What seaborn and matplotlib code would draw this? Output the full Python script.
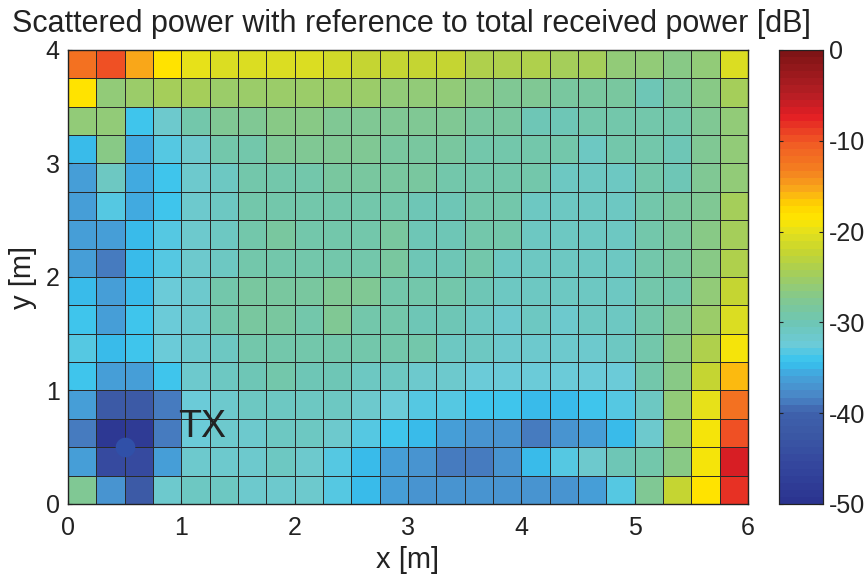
import numpy as np
import pandas as pd
import matplotlib
matplotlib.use("Agg")
import matplotlib.pyplot as plt
import seaborn as sns
from matplotlib.colors import LinearSegmentedColormap

# ---- data: scattered power [dB], rows from top (y = 3.75..4) to bottom (y = 0..0.25)
r00 = [-12, -10, -15, -18, -20, -21, -21, -21, -21, -21.5, -22, -22, -22.5, -22.5, -23.5, -24, -24, -25, -25, -26, -26.5, -27, -26, -20.5]
r01 = [-18, -26, -25.5, -25, -25, -25.5, -25.5, -25.5, -25.5, -25.5, -25.5, -26, -26, -26.5, -27, -27.5, -28, -28.5, -28.5, -28.5, -30, -28.5, -27, -25]
r02 = [-26, -26.5, -34, -31.5, -29.5, -28, -27.5, -27, -27, -27.5, -27.5, -28, -28, -28, -28.5, -28.5, -30, -30, -29.5, -29.5, -29.5, -29, -27.5, -26]
r03 = [-35, -27, -35.5, -33, -31.5, -29.5, -29, -28, -28, -28, -28, -28.5, -28.5, -28.5, -29.5, -29.5, -29.5, -29.5, -30.5, -29.5, -29.5, -30, -27.5, -26.5]
r04 = [-36.5, -30.5, -35.5, -34, -32, -30.5, -29.5, -29, -29, -28.5, -28.5, -28.5, -28.5, -29.5, -29.5, -29.5, -29.5, -30.5, -30.5, -30.5, -29.5, -30, -27.5, -26.5]
r05 = [-36.5, -33, -35.5, -34, -32, -30.5, -29.5, -29, -29, -29, -29, -29, -30, -30, -29.5, -29.5, -30.5, -30.5, -30.5, -30.5, -29.5, -28.5, -27.5, -25]
r06 = [-36.5, -36.5, -35, -33, -32, -30.5, -29.5, -28.5, -29, -29, -29, -28.5, -30, -30, -29.5, -29.5, -30.5, -30.5, -30.5, -30.5, -29.5, -28.5, -27, -25]
r07 = [-36.5, -38.5, -35, -33, -32, -30.5, -29.5, -29, -29, -29, -29, -28.5, -30, -30, -29.5, -30.5, -30.5, -30.5, -30.5, -30.5, -29.5, -28.5, -27, -24]
r08 = [-35, -36.5, -35, -32.5, -31.5, -29.5, -28.5, -28.5, -28.5, -28, -28, -29.5, -29.5, -29.5, -30, -30.5, -30.5, -30.5, -30.5, -30.5, -29.5, -29, -26.5, -22.5]
r09 = [-34, -36.5, -34, -32.5, -31.5, -29.5, -28.5, -28.5, -29, -28, -29.5, -29.5, -30, -30, -30.5, -31.5, -31, -31.5, -31, -30.5, -29.5, -27.5, -25.5, -20.5]
r10 = [-33, -35, -34, -32.5, -31.5, -30.5, -29.5, -29.5, -29.5, -29.5, -29, -29.5, -29.5, -31, -31, -32, -32, -32, -31.5, -31, -29.5, -27, -24, -19]
r11 = [-34, -36, -36.5, -34, -32, -30.5, -30, -29.5, -30, -30, -31, -31, -32, -32, -32.5, -32.5, -32.5, -32.5, -32.5, -32.5, -29.5, -27, -22, -16]
r12 = [-36.5, -42, -42, -38.5, -32.5, -32, -31, -30.5, -31, -31, -32, -32.5, -33, -33, -34, -34, -35, -35, -34, -33, -30.5, -26, -20, -12]
r13 = [-38.5, -49, -48, -39, -32.5, -32, -32, -31, -31, -32, -33, -34, -35, -36.5, -37.5, -37.5, -38.5, -37.5, -36.5, -35, -32, -26, -19.5, -10]
r14 = [-36.5, -45, -45, -36.5, -32, -32, -32, -31, -32, -33, -35, -36.5, -37.5, -39, -39, -37.5, -35, -33, -32, -30, -29.5, -27, -19, -7]
r15 = [-27.5, -37, -41.5, -32, -30.5, -30.5, -31.5, -32, -32, -33, -35, -36.5, -37.5, -37.5, -37.5, -37.5, -37.5, -37.5, -36.5, -33, -28, -22.5, -18, -8.5]

x_tick_labels = ["0", "1", "2", "3", "4", "5", "6"]
y_tick_labels = ["4", "3", "2", "1", "0"]
cbar_ticks = [0, -10, -20, -30, -40, -50]
tx_pos = (0.5, 0.5)   # metres
cell = 0.25           # metres

rows = [r00, r01, r02, r03, r04, r05, r06, r07, r08, r09, r10, r11, r12, r13, r14, r15]
df = pd.DataFrame(rows)

# ---- colormap (muted jet-like, as in the reference colourbar)
anchors = [
    (-50.0, "#2b3490"), (-46.5, "#33449c"), (-43.0, "#3a56a4"), (-40.0, "#3f62ac"),
    (-39.3, "#4574ba"), (-37.8, "#4a8ecc"), (-36.0, "#44a4dc"), (-34.5, "#35c4f0"),
    (-32.5, "#6ccbd8"), (-30.0, "#6ec6b4"), (-27.5, "#82c890"), (-24.5, "#a6ce58"),
    (-22.0, "#c8d62e"), (-20.0, "#e4e01c"), (-18.5, "#ffe600"), (-17.0, "#ffd400"),
    (-15.0, "#f9a51a"), (-13.0, "#f47f20"), (-10.0, "#f15a24"), (-7.0, "#e31e24"),
    (-4.5, "#b51e24"), (0.0, "#7f1416"),
]
cmap = LinearSegmentedColormap.from_list(
    "scat", [((v + 50) / 50, c) for v, c in anchors], N=64)

plt.rcParams["font.family"] = ["Liberation Sans", "DejaVu Sans"]
plt.rcParams["axes.unicode_minus"] = False
txt = "#222222"

fig = plt.figure(figsize=(8.65, 5.74), dpi=100)
ax = fig.add_axes([0.0786, 0.122, 0.7862, 0.791])
cax = fig.add_axes([0.9006, 0.122, 0.0509, 0.791])

sns.heatmap(df, ax=ax, cbar_ax=cax, cmap=cmap, vmin=-50, vmax=0,
            linewidths=0.65, linecolor="#2a2a2a", square=False,
            xticklabels=False, yticklabels=False,
            cbar_kws={"ticks": cbar_ticks})

nx, ny = df.shape[1], df.shape[0]
ax.set_xticks(np.arange(0, nx + 1, 4))
ax.set_xticklabels(x_tick_labels, fontsize=18, color=txt)
ax.set_yticks(np.arange(0, ny + 1, 4))
ax.set_yticklabels(y_tick_labels, fontsize=18, color=txt, rotation=0)
ax.tick_params(axis="x", direction="in", length=3, width=0.8, pad=9,
               colors=txt, labelcolor=txt)
ax.tick_params(axis="y", direction="in", length=3, width=0.8, pad=6,
               colors=txt, labelcolor=txt)
for s in ax.spines.values():
    s.set_visible(True)
    s.set_linewidth(1.0)
    s.set_color("#222222")

ax.set_xlabel("x [m]", fontsize=21, color=txt, labelpad=4)
ax.set_ylabel("y [m]", fontsize=21, color=txt, labelpad=6)
ax.set_title("Scattered power with reference to total received power [dB]",
             fontsize=22, color=txt, pad=13, x=0.505)

# TX marker and label (convert metres -> heatmap cell coordinates)
tx_x = tx_pos[0] / cell
tx_y = ny - tx_pos[1] / cell
ax.scatter([tx_x], [tx_y], s=200, color="#3050a8", zorder=5, linewidths=0)
ax.text(0.97 / cell, ny - 0.68 / cell, "TX", fontsize=27, color=txt,
        va="center", ha="left", zorder=6)

cax.tick_params(direction="in", length=3, width=0.8, labelsize=18,
                colors=txt, labelcolor=txt, pad=4)
cax.yaxis.set_ticks_position("both")
cax.tick_params(labelleft=False, labelright=True)
for s in cax.spines.values():
    s.set_visible(True)
    s.set_linewidth(0.8)
    s.set_color("#222222")

fig.savefig("out.png", dpi=100)
